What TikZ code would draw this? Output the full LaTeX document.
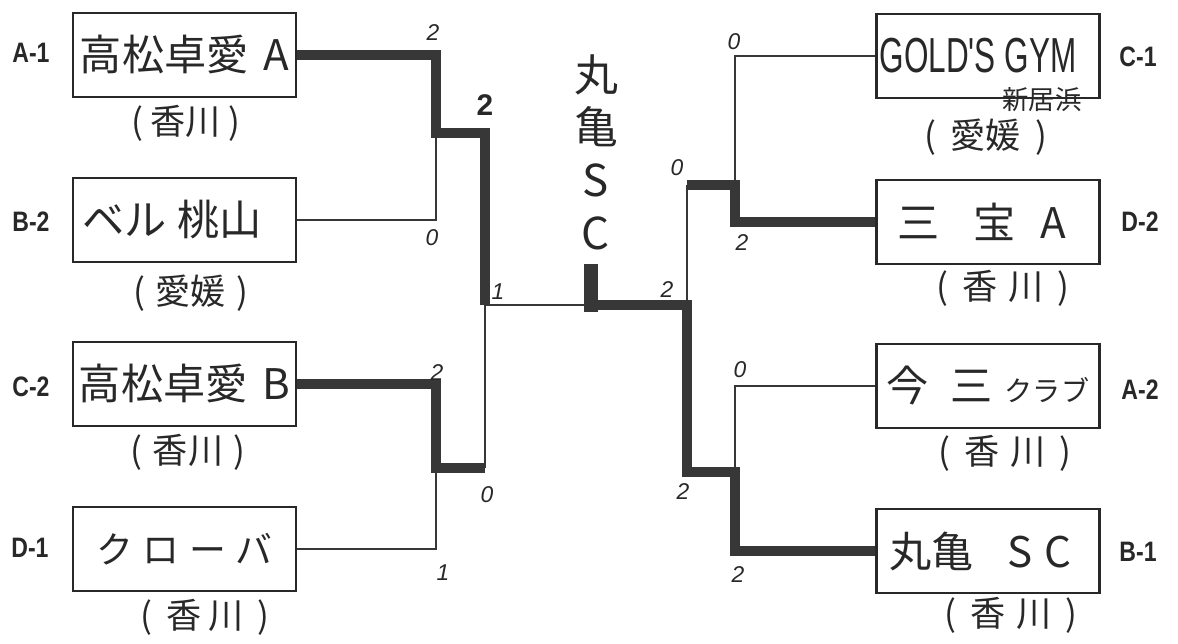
\documentclass[tikz,border=0pt]{standalone}
\usepackage{fontspec}
\usepackage{graphicx}
\setmainfont{Liberation Sans}
\newfontfamily\jpfont{Noto Sans CJK JP}
\definecolor{inkgray}{RGB}{40,40,40}
\definecolor{linegray}{RGB}{55,55,55}

\tikzset{
    teambox/.style={draw=inkgray, line width=1.6pt, minimum width=4.46cm,
        minimum height=1.68cm, inner sep=0pt, text=inkgray,
        font=\jpfont\fontsize{24}{24}\selectfont},
    pref/.style={inner sep=0pt, text=inkgray, font=\jpfont\fontsize{20}{20}\selectfont},
    seed/.style={inner sep=0pt, text=inkgray, font=\bfseries\fontsize{16}{16}\selectfont},
    score/.style={inner sep=0pt, text=inkgray, font=\itshape\fontsize{13}{13}\selectfont},
    winline/.style={draw=linegray, line width=6.2pt, line join=miter},
    loseline/.style={draw=linegray, line width=1.5pt},
}

\begin{document}
\begin{tikzpicture}[x=0.02cm, y=-0.02cm]

% Fondo
\fill[white] (0,0) rectangle (1178,644);
\useasboundingbox (0,0) rectangle (1178,644);

% === Bloque izquierdo ===
\node[teambox] (a1) at (184.5,55)  {高松卓愛\hspace{0.35em}A};
\node[teambox] (b2) at (184.5,220) {\hspace*{-0.5cm}ベル\hspace{0.25em}桃山};
\node[teambox] (c2) at (184.5,384) {高松卓愛\hspace{0.35em}B};
\node[teambox] (d1) at (184.5,549) {\fontsize{21}{21}\selectfont ク\hspace{0.25em}ロ\hspace{0.25em}ー\hspace{0.25em}バ};

\node[pref] (a1r) at (186,123) {(\hspace{0.2em}香川\hspace{0.2em})};
\node[pref] (b2r) at (191,293) {(\hspace{0.3em}愛媛\hspace{0.3em})};
\node[pref] (c2r) at (188,452) {(\hspace{0.3em}香川\hspace{0.3em})};
\node[pref] (d1r) at (205,617) {(\hspace{0.4em}香\hspace{0.2em}川\hspace{0.4em})};

% === Bloque derecho ===
\node[teambox] (c1) at (988,56)  {\hspace*{-0.4cm}\scalebox{0.64}[1]{\fontspec{Liberation Sans}\fontsize{28}{28}\selectfont GOLD'S GYM}};
\node[teambox] (d2) at (988,222) {\hspace*{-0.25cm}三\hspace{0.8em}宝\hspace{0.6em}A};
\node[teambox] (a2) at (988,386) {今\hspace{0.5em}三\hspace{0.3em}{\fontsize{16}{16}\selectfont クラブ}};
\node[teambox] (b1) at (988,551) {\hspace*{-0.3cm}丸亀\hspace{0.8em}S\hspace{0.3em}C};

\node[pref, font=\jpfont\fontsize{15}{15}\selectfont] (c1s) at (1042,100) {新居浜};
\node[pref] (c1r) at (986,137)  {(\hspace{0.4em}愛媛\hspace{0.4em})};
\node[pref] (d2r) at (1003,288) {(\hspace{0.4em}香\hspace{0.3em}川\hspace{0.4em})};
\node[pref] (a2r) at (1005,453) {(\hspace{0.4em}香\hspace{0.3em}川\hspace{0.4em})};
\node[pref] (b1r) at (1011,615) {(\hspace{0.4em}香\hspace{0.3em}川\hspace{0.4em})};

% Etiquetas de sorteo
\foreach \nm/\px/\py/\txt in {la1/31/53/A-1, lb2/31/222/B-2, lc2/31/387/C-2, ld1/30/548/D-1,
    rc1/1138/57/C-1, rd2/1140/222/D-2, ra2/1140/390/A-2, rb1/1138/552/B-1} {
    \node[seed] (\nm) at (\px,\py) {\scalebox{0.82}[1]{\txt}};
}

% Campeon
\node[inner sep=0pt, align=center, text=inkgray, font=\jpfont\fontsize{25}{30}\selectfont]
    (champname) at (596,152) {丸\\亀\\S\\C};

% Puntos de union
\coordinate (qa) at (436,133);
\coordinate (qb) at (436,468);
\coordinate (sl) at (485,305);
\coordinate (qc) at (735,185);
\coordinate (qd) at (735,472);
\coordinate (sr) at (687,305);
\coordinate (fin) at (591,305);
\coordinate (champ) at (591,271);

% Lineas perdedoras
\draw[loseline] (b2.east) -- (b2.east -| qa) -- (qa);
\draw[loseline] (d1.east) -- (d1.east -| qb) -- (qb);
\draw[loseline] (qb -| sl) -- (sl) -- (fin);
\draw[loseline] (c1.west) -- (c1.west -| qc) -- (qc);
\draw[loseline] (qc -| sr) -- (sr);
\draw[loseline] (a2.west) -- (a2.west -| qd) -- (qd);

% Lineas ganadoras
\draw[winline] (a1.east) -- (a1.east -| qa) -- (qa) -- (qa -| sl) -- (sl);
\draw[winline] (c2.east) -- (c2.east -| qb) -- (qb) -- (qb -| sl);
\draw[winline] (d2.west) -- (d2.west -| qc) -- (qc) -- (qc -| sr);
\draw[winline] (b1.west) -- (b1.west -| qd) -- (qd) -- (qd -| sr) -- (sr) -- (fin);
\draw[winline, line width=8.5pt, line cap=rect] (fin) -- (champ);

% Tanteos
\foreach \px/\py/\val [count=\i] in {433/33/2, 432/238/0, 498/292/1, 437/373/2,
    487/495/0, 443/573/1, 734/42/0, 677/168/0, 742/243/2, 667/290/2,
    740/370/0, 683/492/2, 738/575/2} {
    \node[score] (sc\i) at (\px,\py) {\val};
}
\node[score, font=\bfseries\fontsize{17}{17}\selectfont] (scbig) at (485,105) {2};

\end{tikzpicture}
\end{document}
